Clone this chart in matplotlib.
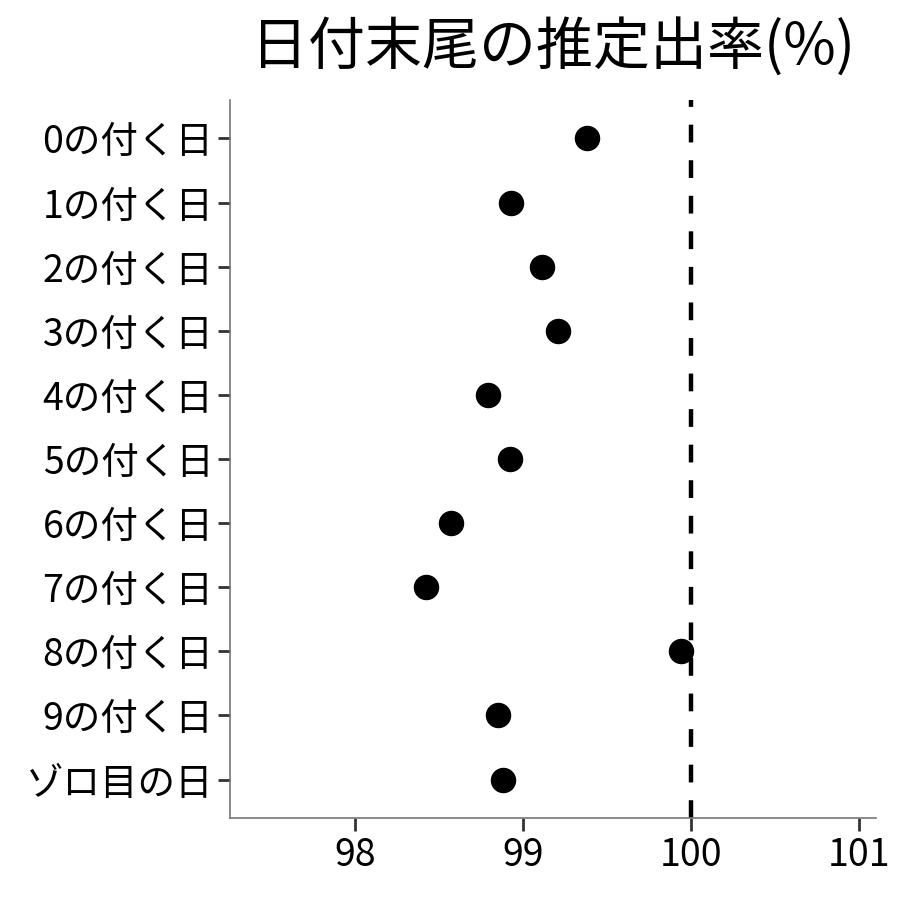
import matplotlib
matplotlib.use("Agg")
import matplotlib.pyplot as plt

plt.rcParams['font.family'] = ['Noto Sans CJK JP', 'DejaVu Sans']

# 日付末尾ごとの推定出率
labels = ['0の付く日', '1の付く日', '2の付く日', '3の付く日', '4の付く日',
          '5の付く日', '6の付く日', '7の付く日', '8の付く日', '9の付く日',
          'ゾロ目の日']
rates = [99.38, 98.93, 99.11, 99.21, 98.79, 98.92, 98.57, 98.42, 99.94,
         98.85, 98.88]
xticks = [98, 99, 100, 101]

fig = plt.figure(figsize=(9, 9), dpi=100)
ax = fig.add_axes([0.2556, 0.0911, 0.7178, 0.7978])

ypos = list(range(len(labels)))
ax.axvline(100, color='black', lw=3.2, linestyle=(0, (4, 4)), zorder=1)
ax.scatter(rates, ypos, s=300, color='black', zorder=3)

ax.set_xlim(97.256, 101.101)
ax.set_ylim(len(labels) - 0.4, -0.6)
ax.set_yticks(ypos)
ax.set_yticklabels(labels)
ax.set_xticks(xticks)
ax.set_xticklabels([str(t) for t in xticks])

for side in ['top', 'right']:
    ax.spines[side].set_visible(False)
for side in ['left', 'bottom']:
    ax.spines[side].set_color('#777777')
    ax.spines[side].set_linewidth(1.2)
ax.tick_params(axis='both', labelsize=27, length=9, width=2,
               color='#333333', labelcolor='black', pad=3)
ax.tick_params(axis='x', pad=4)

ax.set_title('日付末尾の推定出率(%)', fontsize=41, pad=26)

fig.savefig('out.png', dpi=100)
